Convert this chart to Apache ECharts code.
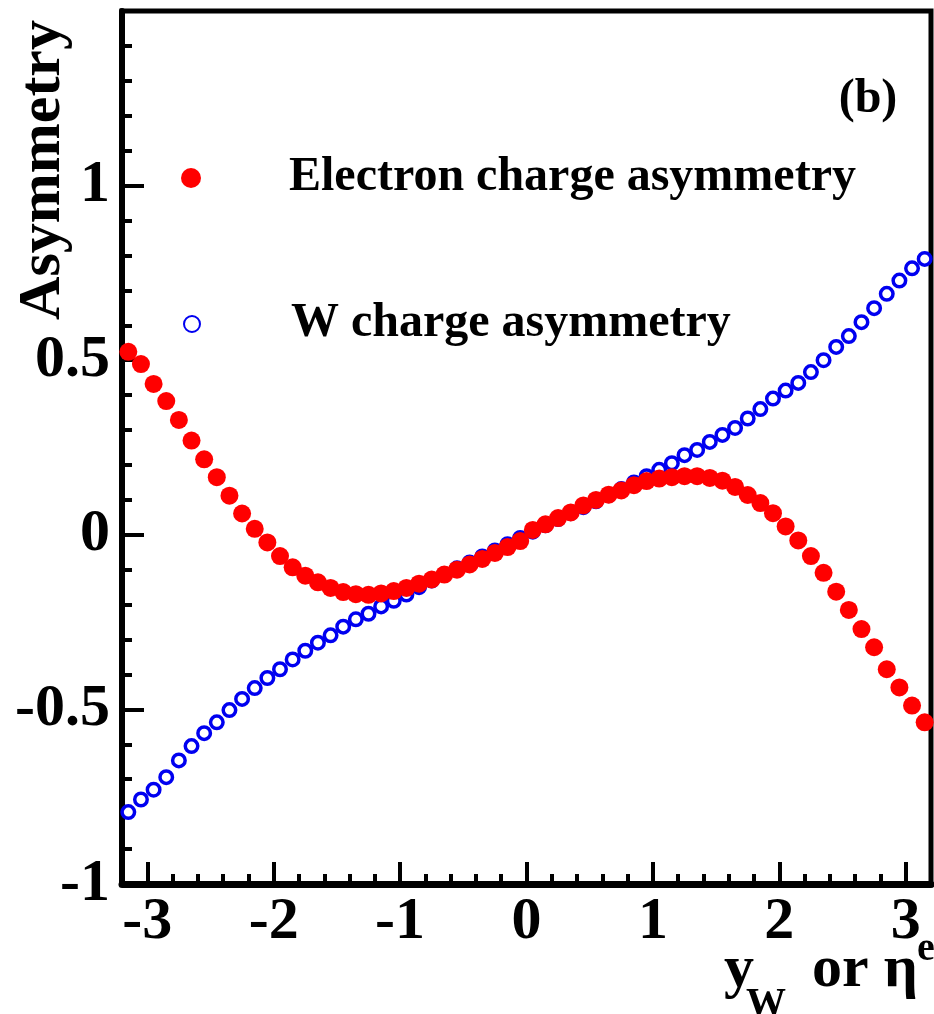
<!DOCTYPE html>
<html>
<head>
<meta charset="utf-8">
<script src="https://cdn.jsdelivr.net/npm/echarts@6.0.0/dist/echarts.min.js"></script>
<style>
  html, body { margin: 0; padding: 0; background: #fff; }
  #chart { width: 934px; height: 1014px; }
</style>
</head>
<body>
<div id="chart"></div>
<script>
// Rapidity / pseudorapidity bin centres
const eta = [
  -3.15, -3.05, -2.95, -2.85, -2.75, -2.65, -2.55, -2.45, -2.35, -2.25, -2.15, -2.05,
  -1.95, -1.85, -1.75, -1.65, -1.55, -1.45, -1.35, -1.25, -1.15, -1.05,
  -0.95, -0.85, -0.75, -0.65, -0.55, -0.45, -0.35, -0.25, -0.15, -0.05,
  0.05, 0.15, 0.25, 0.35, 0.45, 0.55, 0.65, 0.75, 0.85, 0.95,
  1.05, 1.15, 1.25, 1.35, 1.45, 1.55, 1.65, 1.75, 1.85, 1.95,
  2.05, 2.15, 2.25, 2.35, 2.45, 2.55, 2.65, 2.75, 2.85, 2.95, 3.05, 3.15
];

// Electron charge asymmetry vs eta^e
const electronAsym = [
  0.524, 0.489, 0.432, 0.383, 0.329, 0.270, 0.216, 0.165, 0.112, 0.061, 0.017, -0.022,
  -0.061, -0.093, -0.117, -0.136, -0.152, -0.164, -0.170, -0.172, -0.168, -0.161,
  -0.152, -0.140, -0.128, -0.114, -0.100, -0.085, -0.069, -0.052, -0.035, -0.018,
  0.014, 0.030, 0.048, 0.064, 0.084, 0.100, 0.115, 0.127, 0.142, 0.154,
  0.161, 0.165, 0.168, 0.168, 0.163, 0.155, 0.137, 0.114, 0.091, 0.062,
  0.024, -0.016, -0.061, -0.109, -0.163, -0.215, -0.270, -0.322, -0.385, -0.437, -0.489, -0.537
];

// W charge asymmetry vs y_W
const wAsym = [
  -0.794, -0.758, -0.730, -0.694, -0.646, -0.605, -0.568, -0.537, -0.502, -0.470, -0.439, -0.410,
  -0.385, -0.357, -0.332, -0.309, -0.288, -0.263, -0.242, -0.226, -0.205, -0.189,
  -0.171, -0.150, -0.131, -0.113, -0.096, -0.079, -0.062, -0.045, -0.027, -0.009,
  0.009, 0.027, 0.045, 0.062, 0.079, 0.096, 0.113, 0.131, 0.150, 0.168,
  0.186, 0.205, 0.228, 0.243, 0.266, 0.286, 0.306, 0.333, 0.360, 0.390,
  0.413, 0.435, 0.466, 0.500, 0.538, 0.569, 0.609, 0.649, 0.690, 0.728, 0.763, 0.790
];

const xMajorTicks = [-3, -2, -1, 0, 1, 2, 3];
const seriesNames = ['Electron charge asymmetry', 'W charge asymmetry'];
const yTitle = 'Asymmetry';
const panelTag = '(b)';

const SERIF = '"Liberation Serif", "Times New Roman", serif';
const RED = '#ff0000';
const BLUE = '#0000f0';
const tickStyle = { color: '#000', width: 4 };
const labelFont = { fontFamily: SERIF, fontWeight: 'bold', fontSize: 60, color: '#000' };
const legendFont = { fontFamily: SERIF, fontWeight: 'bold', fontSize: 48, color: '#000' };

const chart = echarts.init(document.getElementById('chart'), null, { renderer: 'canvas' });

chart.setOption({
  animation: false,
  backgroundColor: '#fff',
  grid: {
    left: 122, right: 3, top: 11, bottom: 130,
    show: true, borderColor: '#000', borderWidth: 5, backgroundColor: 'transparent'
  },
  xAxis: [
    {
      type: 'value', min: -3.2, max: 3.2,
      axisLine: { show: true, onZero: false, lineStyle: { color: '#000', width: 7 } },
      axisTick: { show: true, inside: true, length: 22, lineStyle: tickStyle, customValues: xMajorTicks },
      axisLabel: Object.assign({ customValues: xMajorTicks, margin: 8 }, labelFont),
      splitLine: { show: false }
    },
    {
      // minor ticks every 0.2
      type: 'value', min: -3.2, max: 3.2, interval: 0.2, position: 'bottom',
      axisLine: { show: false, onZero: false },
      axisTick: { show: true, inside: true, length: 10, lineStyle: tickStyle },
      axisLabel: { show: false },
      splitLine: { show: false }
    }
  ],
  yAxis: {
    type: 'value', min: -1, max: 1.5, interval: 0.5,
    axisLine: { show: true, onZero: false, lineStyle: { color: '#000', width: 6 } },
    axisTick: { show: true, inside: true, length: 22, lineStyle: tickStyle },
    minorTick: { show: true, splitNumber: 5, length: 10, lineStyle: tickStyle },
    axisLabel: Object.assign({ showMaxLabel: false, margin: 12 }, labelFont),
    splitLine: { show: false },
    minorSplitLine: { show: false }
  },
  legend: [
    {
      data: [seriesNames[0]], left: 176, top: 149, orient: 'vertical',
      itemWidth: 20, itemHeight: 20, selectedMode: false,
      textStyle: Object.assign({ padding: [0, 0, 0, 83] }, legendFont)
    },
    {
      data: [seriesNames[1]], left: 178, top: 295, orient: 'vertical',
      itemWidth: 16, itemHeight: 16, selectedMode: false,
      textStyle: Object.assign({ padding: [0, 0, 0, 86] }, legendFont)
    }
  ],
  graphic: [
    {
      type: 'text', x: 43, y: 20, rotation: Math.PI / 2, silent: true,
      style: { text: yTitle, font: 'bold 60px ' + SERIF, fill: '#000', align: 'right', verticalAlign: 'middle' }
    },
    {
      type: 'text', x: 868, y: 100, silent: true,
      style: { text: panelTag, font: 'bold 48px ' + SERIF, fill: '#000', align: 'center', verticalAlign: 'middle' }
    },
    // x-axis title: y_W or eta^e
    {
      type: 'text', x: 724, y: 970, silent: true,
      style: { text: 'y', font: 'bold 60px ' + SERIF, fill: '#000', align: 'left', verticalAlign: 'middle' }
    },
    {
      type: 'text', x: 746, y: 1005, silent: true,
      style: { text: 'W', font: 'bold 40px ' + SERIF, fill: '#000', align: 'left', verticalAlign: 'middle' }
    },
    {
      type: 'text', x: 812, y: 970, silent: true,
      style: { text: 'or η', font: 'bold 60px ' + SERIF, fill: '#000', align: 'left', verticalAlign: 'middle' }
    },
    {
      type: 'text', x: 917, y: 950, silent: true,
      style: { text: 'e', font: 'bold 40px ' + SERIF, fill: '#000', align: 'left', verticalAlign: 'middle' }
    }
  ],
  series: [
    {
      name: seriesNames[1], type: 'scatter', xAxisIndex: 0,
      symbol: 'circle', symbolSize: 12.5,
      itemStyle: { color: '#fff', borderColor: BLUE, borderWidth: 3.5, opacity: 1 },
      emphasis: { disabled: true },
      data: eta.map((x, i) => [x, wAsym[i]]),
      z: 2
    },
    {
      name: seriesNames[0], type: 'scatter', xAxisIndex: 0,
      symbol: 'circle', symbolSize: 18,
      itemStyle: { color: RED, opacity: 1 },
      emphasis: { disabled: true },
      data: eta.map((x, i) => [x, electronAsym[i]]),
      z: 3
    }
  ]
});
</script>
</body>
</html>
